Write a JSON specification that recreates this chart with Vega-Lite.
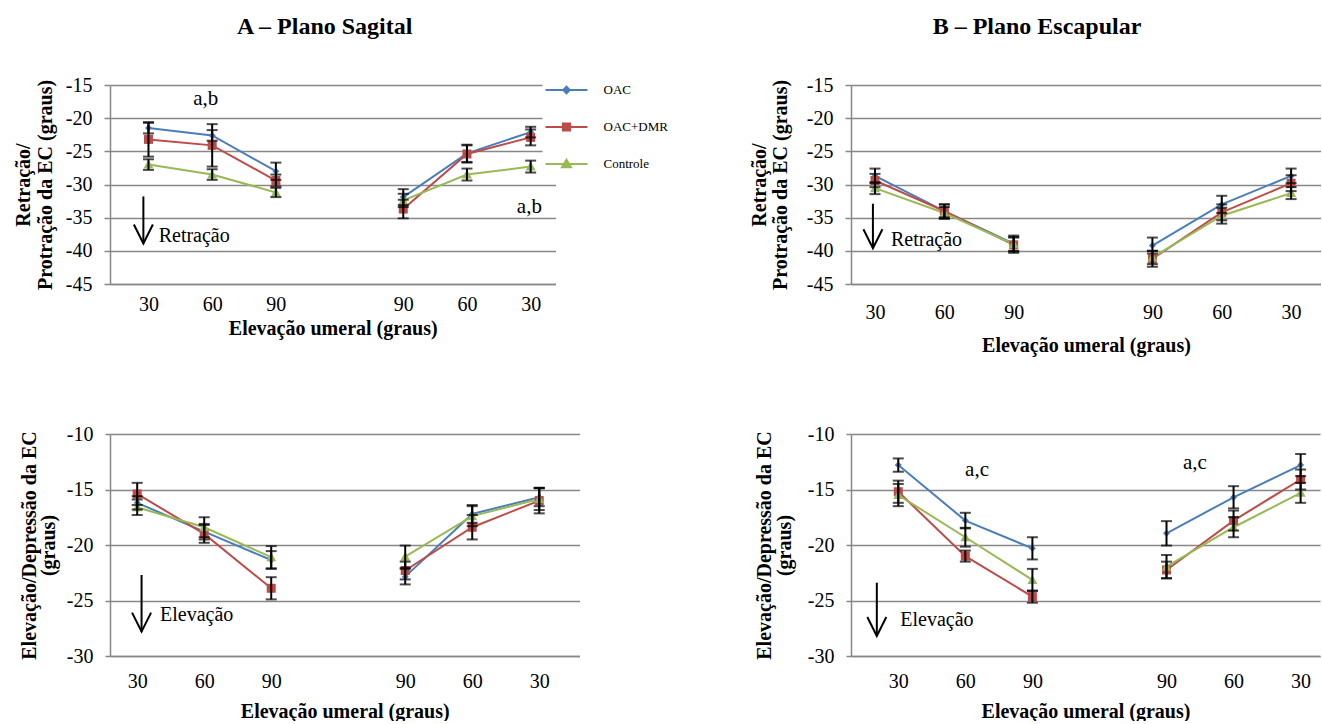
{
  "$schema": "https://vega.github.io/schema/vega-lite/v6.json",
  "background": "white",
  "padding": {"left": 13, "top": 15, "right": 0, "bottom": 0},
  "datasets": {
    "ret_sag": [
      {"pos": 1, "half": "L", "series": "OAC", "mean": -21.5, "err": 0.8},
      {"pos": 2, "half": "L", "series": "OAC", "mean": -22.6, "err": 0.8},
      {"pos": 3, "half": "L", "series": "OAC", "mean": -28.0, "err": 1.3},
      {"pos": 5, "half": "R", "series": "OAC", "mean": -31.9, "err": 1.2},
      {"pos": 6, "half": "R", "series": "OAC", "mean": -25.3, "err": 1.3},
      {"pos": 7, "half": "R", "series": "OAC", "mean": -22.1, "err": 0.8},
      {"pos": 1, "half": "L", "series": "OAC+DMR", "mean": -23.2, "err": 2.6},
      {"pos": 2, "half": "L", "series": "OAC+DMR", "mean": -24.1, "err": 3.2},
      {"pos": 3, "half": "L", "series": "OAC+DMR", "mean": -29.4, "err": 0.9},
      {"pos": 5, "half": "R", "series": "OAC+DMR", "mean": -33.7, "err": 1.4},
      {"pos": 6, "half": "R", "series": "OAC+DMR", "mean": -25.4, "err": 1.3},
      {"pos": 7, "half": "R", "series": "OAC+DMR", "mean": -22.9, "err": 1.2},
      {"pos": 1, "half": "L", "series": "Controle", "mean": -27.0, "err": 0.8},
      {"pos": 2, "half": "L", "series": "Controle", "mean": -28.5, "err": 0.8},
      {"pos": 3, "half": "L", "series": "Controle", "mean": -31.2, "err": 0.7},
      {"pos": 5, "half": "R", "series": "Controle", "mean": -32.4, "err": 1.0},
      {"pos": 6, "half": "R", "series": "Controle", "mean": -28.5, "err": 0.9},
      {"pos": 7, "half": "R", "series": "Controle", "mean": -27.3, "err": 0.9}
    ],
    "ret_esc": [
      {"pos": 1, "half": "L", "series": "OAC", "mean": -28.7, "err": 1.1},
      {"pos": 2, "half": "L", "series": "OAC", "mean": -34.0, "err": 1.0},
      {"pos": 3, "half": "L", "series": "OAC", "mean": -38.9, "err": 1.2},
      {"pos": 5, "half": "R", "series": "OAC", "mean": -39.2, "err": 1.2},
      {"pos": 6, "half": "R", "series": "OAC", "mean": -33.0, "err": 1.3},
      {"pos": 7, "half": "R", "series": "OAC", "mean": -28.7, "err": 1.1},
      {"pos": 1, "half": "L", "series": "OAC+DMR", "mean": -29.4, "err": 1.0},
      {"pos": 2, "half": "L", "series": "OAC+DMR", "mean": -34.0, "err": 1.0},
      {"pos": 3, "half": "L", "series": "OAC+DMR", "mean": -39.1, "err": 1.2},
      {"pos": 5, "half": "R", "series": "OAC+DMR", "mean": -41.2, "err": 1.2},
      {"pos": 6, "half": "R", "series": "OAC+DMR", "mean": -34.2, "err": 1.2},
      {"pos": 7, "half": "R", "series": "OAC+DMR", "mean": -29.8, "err": 1.2},
      {"pos": 1, "half": "L", "series": "Controle", "mean": -30.55, "err": 0.9},
      {"pos": 2, "half": "L", "series": "Controle", "mean": -34.3, "err": 0.9},
      {"pos": 3, "half": "L", "series": "Controle", "mean": -39.0, "err": 1.0},
      {"pos": 5, "half": "R", "series": "Controle", "mean": -41.0, "err": 1.0},
      {"pos": 6, "half": "R", "series": "Controle", "mean": -34.7, "err": 1.2},
      {"pos": 7, "half": "R", "series": "Controle", "mean": -31.3, "err": 0.9}
    ],
    "ele_sag": [
      {"pos": 1, "half": "L", "series": "OAC", "mean": -16.2, "err": 0.6},
      {"pos": 2, "half": "L", "series": "OAC", "mean": -18.8, "err": 0.7},
      {"pos": 3, "half": "L", "series": "OAC", "mean": -21.35, "err": 0.8},
      {"pos": 5, "half": "R", "series": "OAC", "mean": -22.85, "err": 0.7},
      {"pos": 6, "half": "R", "series": "OAC", "mean": -17.2, "err": 0.8},
      {"pos": 7, "half": "R", "series": "OAC", "mean": -15.7, "err": 0.8},
      {"pos": 1, "half": "L", "series": "OAC+DMR", "mean": -15.4, "err": 1.0},
      {"pos": 2, "half": "L", "series": "OAC+DMR", "mean": -19.0, "err": 0.8},
      {"pos": 3, "half": "L", "series": "OAC+DMR", "mean": -23.9, "err": 1.0},
      {"pos": 5, "half": "R", "series": "OAC+DMR", "mean": -22.3, "err": 0.8},
      {"pos": 6, "half": "R", "series": "OAC+DMR", "mean": -18.4, "err": 1.1},
      {"pos": 7, "half": "R", "series": "OAC+DMR", "mean": -16.0, "err": 1.15},
      {"pos": 1, "half": "L", "series": "Controle", "mean": -16.6, "err": 0.7},
      {"pos": 2, "half": "L", "series": "Controle", "mean": -18.4, "err": 0.9},
      {"pos": 3, "half": "L", "series": "Controle", "mean": -21.1, "err": 1.0},
      {"pos": 5, "half": "R", "series": "Controle", "mean": -21.05, "err": 1.0},
      {"pos": 6, "half": "R", "series": "Controle", "mean": -17.4, "err": 0.9},
      {"pos": 7, "half": "R", "series": "Controle", "mean": -15.85, "err": 1.0}
    ],
    "ele_esc": [
      {"pos": 1, "half": "L", "series": "OAC", "mean": -12.8, "err": 0.6},
      {"pos": 2, "half": "L", "series": "OAC", "mean": -17.8, "err": 0.7},
      {"pos": 3, "half": "L", "series": "OAC", "mean": -20.3, "err": 1.0},
      {"pos": 5, "half": "R", "series": "OAC", "mean": -18.95, "err": 1.1},
      {"pos": 6, "half": "R", "series": "OAC", "mean": -15.7, "err": 1.0},
      {"pos": 7, "half": "R", "series": "OAC", "mean": -12.8, "err": 1.0},
      {"pos": 1, "half": "L", "series": "OAC+DMR", "mean": -15.2, "err": 1.0},
      {"pos": 2, "half": "L", "series": "OAC+DMR", "mean": -21.0, "err": 0.5},
      {"pos": 3, "half": "L", "series": "OAC+DMR", "mean": -24.65, "err": 0.55},
      {"pos": 5, "half": "R", "series": "OAC+DMR", "mean": -22.25, "err": 0.75},
      {"pos": 6, "half": "R", "series": "OAC+DMR", "mean": -17.8, "err": 0.9},
      {"pos": 7, "half": "R", "series": "OAC+DMR", "mean": -14.1, "err": 0.9},
      {"pos": 1, "half": "L", "series": "Controle", "mean": -15.5, "err": 1.0},
      {"pos": 2, "half": "L", "series": "Controle", "mean": -19.3, "err": 0.85},
      {"pos": 3, "half": "L", "series": "Controle", "mean": -23.15, "err": 1.0},
      {"pos": 5, "half": "R", "series": "Controle", "mean": -21.95, "err": 1.05},
      {"pos": 6, "half": "R", "series": "Controle", "mean": -18.4, "err": 0.9},
      {"pos": 7, "half": "R", "series": "Controle", "mean": -15.3, "err": 0.9}
    ]
  },
  "config": {
    "font": "Liberation Serif",
    "view": {"stroke": null},
    "axis": {
      "labelFont": "Liberation Serif", "labelFontSize": 20, "labelColor": "black",
      "titleFont": "Liberation Serif", "titleFontSize": 20, "titleFontWeight": "bold", "titleColor": "black",
      "domainColor": "#878787", "domainWidth": 1.5, "gridColor": "#878787", "gridWidth": 1.5,
      "tickColor": "#878787", "tickWidth": 1.5, "titleLineHeight": 22,
      "labelOverlap": false, "labelFlush": false
    },
    "axisY": {"grid": true, "tickSize": 6, "labelPadding": 12},
    "axisX": {"grid": false, "ticks": false, "tickSize": 0, "labelPadding": 12},
    "title": {"font": "Liberation Serif", "fontSize": 24, "fontWeight": "bold", "color": "black"}
  },
  "resolve": {
    "scale": {"color": "independent"},
    "legend": {"color": "independent"}
  },
  "columns": 2,
  "align": "none",
  "bounds": "flush",
  "spacing": {"row": 150, "column": 271},
  "concat": [
    {
      "width": 445.5, "height": 199,
      "title": {"text": "A – Plano Sagital", "frame": "group", "dx": -8, "offset": 27},
      "data": {"name": "ret_sag"},
      "encoding": {
        "x": {"field": "pos", "type": "quantitative", "scale": {"domain": [0.396, 7.39], "nice": false, "zero": false},
          "axis": {"values": [1, 2, 3, 5, 6, 7], "labelExpr": "datum.value == 1 || datum.value == 7 ? '30' : (datum.value == 2 || datum.value == 6 ? '60' : '90')", "title": "Elevação umeral (graus)", "labelPadding": 10, "titlePadding": 4}},
        "y": {"field": "mean", "type": "quantitative", "scale": {"domain": [-45, -15], "nice": false, "zero": false},
          "axis": {"values": [-45, -40, -35, -30, -25, -20, -15], "labelExpr": "'' + datum.value", "title": ["Retração/", "Protração da EC (graus)"], "titlePadding": 9.5}}
      },
      "layer": [
        {
          "mark": {"type": "line", "strokeWidth": 2},
          "encoding": {
            "color": {"field": "series", "type": "nominal", "scale": {"domain": ["OAC", "OAC+DMR", "Controle"], "range": ["#4A7EBB", "#BE4B48", "#98B954"]},
              "legend": {"title": null, "orient": "none", "legendX": 432.5, "legendY": -19, "fillColor": "white", "padding": 8, "symbolSize": 900, "rowPadding": 13, "labelOffset": 21, "labelFont": "Liberation Serif", "labelFontSize": 13, "labelColor": "black", "symbolStrokeWidth": 2, "symbolOpacity": 1,
                "encode": {"symbols": {"update": {
                  "shape": {"signal": "datum.value === 'OAC' ? 'M-1.4,0H1.4M0,-0.22L0.22,0L0,0.22L-0.22,0Z' : (datum.value === 'OAC+DMR' ? 'M-1.4,0H1.4M-0.24,-0.24H0.24V0.24H-0.24Z' : 'M-1.4,0H1.4M0,-0.28L0.3,0.22H-0.3Z')"}
                }}}}},
            "detail": {"field": "half", "type": "nominal"}
          }
        },
        {
          "transform": [{"filter": "datum.series === 'OAC'"}],
          "mark": {"type": "point", "filled": true, "opacity": 1, "size": 100, "shape": "M0,-0.7L0.7,0L0,0.7L-0.7,0Z"},
          "encoding": {
            "color": {"field": "series", "type": "nominal", "scale": {"domain": ["OAC", "OAC+DMR", "Controle"], "range": ["#4A7EBB", "#BE4B48", "#98B954"]},
              "legend": {"title": null, "orient": "none", "legendX": 432.5, "legendY": -19, "fillColor": "white", "padding": 8, "symbolSize": 900, "rowPadding": 13, "labelOffset": 21, "labelFont": "Liberation Serif", "labelFontSize": 13, "labelColor": "black", "symbolStrokeWidth": 2, "symbolOpacity": 1,
                "encode": {"symbols": {"update": {
                  "shape": {"signal": "datum.value === 'OAC' ? 'M-1.4,0H1.4M0,-0.22L0.22,0L0,0.22L-0.22,0Z' : (datum.value === 'OAC+DMR' ? 'M-1.4,0H1.4M-0.24,-0.24H0.24V0.24H-0.24Z' : 'M-1.4,0H1.4M0,-0.28L0.3,0.22H-0.3Z')"}
                }}}}}
          }
        },
        {
          "transform": [{"filter": "datum.series === 'OAC+DMR'"}],
          "mark": {"type": "point", "filled": true, "opacity": 1, "size": 100, "shape": "M-0.9,-0.9H0.9V0.9H-0.9Z"},
          "encoding": {
            "color": {"field": "series", "type": "nominal", "scale": {"domain": ["OAC", "OAC+DMR", "Controle"], "range": ["#4A7EBB", "#BE4B48", "#98B954"]},
              "legend": {"title": null, "orient": "none", "legendX": 432.5, "legendY": -19, "fillColor": "white", "padding": 8, "symbolSize": 900, "rowPadding": 13, "labelOffset": 21, "labelFont": "Liberation Serif", "labelFontSize": 13, "labelColor": "black", "symbolStrokeWidth": 2, "symbolOpacity": 1,
                "encode": {"symbols": {"update": {
                  "shape": {"signal": "datum.value === 'OAC' ? 'M-1.4,0H1.4M0,-0.22L0.22,0L0,0.22L-0.22,0Z' : (datum.value === 'OAC+DMR' ? 'M-1.4,0H1.4M-0.24,-0.24H0.24V0.24H-0.24Z' : 'M-1.4,0H1.4M0,-0.28L0.3,0.22H-0.3Z')"}
                }}}}}
          }
        },
        {
          "transform": [{"filter": "datum.series === 'Controle'"}],
          "mark": {"type": "point", "filled": true, "opacity": 1, "size": 100, "shape": "M0,-1L1,0.8H-1Z"},
          "encoding": {
            "color": {"field": "series", "type": "nominal", "scale": {"domain": ["OAC", "OAC+DMR", "Controle"], "range": ["#4A7EBB", "#BE4B48", "#98B954"]},
              "legend": {"title": null, "orient": "none", "legendX": 432.5, "legendY": -19, "fillColor": "white", "padding": 8, "symbolSize": 900, "rowPadding": 13, "labelOffset": 21, "labelFont": "Liberation Serif", "labelFontSize": 13, "labelColor": "black", "symbolStrokeWidth": 2, "symbolOpacity": 1,
                "encode": {"symbols": {"update": {
                  "shape": {"signal": "datum.value === 'OAC' ? 'M-1.4,0H1.4M0,-0.22L0.22,0L0,0.22L-0.22,0Z' : (datum.value === 'OAC+DMR' ? 'M-1.4,0H1.4M-0.24,-0.24H0.24V0.24H-0.24Z' : 'M-1.4,0H1.4M0,-0.28L0.3,0.22H-0.3Z')"}
                }}}}}
          }
        },
        {
          "mark": {"type": "errorbar", "ticks": true, "size": 11, "thickness": 2, "color": "black"},
          "encoding": {"yError": {"field": "err"}}
        },
        {
          "data": {"values": [{"pos": 1.9, "mean": -17.1, "t": "a,b"}, {"pos": 6.98, "mean": -33.4, "t": "a,b"}]},
          "mark": {"type": "text", "font": "Liberation Serif", "fontSize": 21, "color": "black", "align": "center", "baseline": "middle"},
          "encoding": {"text": {"field": "t"}}
        },
        {
          "data": {"values": [{"pos": 1.16, "mean": -37.8, "t": "Retração"}]},
          "mark": {"type": "text", "font": "Liberation Serif", "fontSize": 20, "color": "black", "align": "left", "baseline": "middle"},
          "encoding": {"text": {"field": "t"}}
        },
        {
          "data": {"values": [{"pos": 0.92, "mean": -31.8, "end": -38.9}]},
          "mark": {"type": "rule", "color": "black", "strokeWidth": 2},
          "encoding": {"y2": {"field": "end"}}
        },
        {
          "data": {"values": [{"pos": 0.92, "mean": -38.9}]},
          "mark": {"type": "point", "filled": false, "stroke": "black", "strokeWidth": 2, "opacity": 1, "shape": "M-1,-2L0,0L1,-2", "size": 361},
          "encoding": {}
        }
      ]
    },
    {
      "width": 470, "height": 199,
      "title": {"text": "B – Plano Escapular", "frame": "group", "dx": -49, "offset": 36},
      "data": {"name": "ret_esc"},
      "encoding": {
        "x": {"field": "pos", "type": "quantitative", "scale": {"domain": [0.654, 7.431], "nice": false, "zero": false},
          "axis": {"values": [1, 2, 3, 5, 6, 7], "labelExpr": "datum.value == 1 || datum.value == 7 ? '30' : (datum.value == 2 || datum.value == 6 ? '60' : '90')", "title": "Elevação umeral (graus)", "labelPadding": 18, "titlePadding": 13}},
        "y": {"field": "mean", "type": "quantitative", "scale": {"domain": [-45, -15], "nice": false, "zero": false},
          "axis": {"values": [-45, -40, -35, -30, -25, -20, -15], "labelExpr": "'' + datum.value", "title": ["Retração/", "Protração da EC (graus)"], "titlePadding": 16, "titleLineHeight": 21}}
      },
      "layer": [
        {
          "mark": {"type": "line", "strokeWidth": 2},
          "encoding": {
            "color": {"field": "series", "type": "nominal", "scale": {"domain": ["OAC", "OAC+DMR", "Controle"], "range": ["#4A7EBB", "#BE4B48", "#98B954"]}, "legend": null},
            "detail": {"field": "half", "type": "nominal"}
          }
        },
        {
          "mark": {"type": "point", "filled": true, "opacity": 1, "size": 100},
          "encoding": {
            "color": {"field": "series", "type": "nominal", "scale": {"domain": ["OAC", "OAC+DMR", "Controle"], "range": ["#4A7EBB", "#BE4B48", "#98B954"]}, "legend": null},
            "shape": {"field": "series", "type": "nominal", "scale": {"domain": ["OAC", "OAC+DMR", "Controle"], "range": ["M0,-0.7L0.7,0L0,0.7L-0.7,0Z", "M-0.9,-0.9H0.9V0.9H-0.9Z", "M0,-1L1,0.8H-1Z"]}, "legend": null}
          }
        },
        {
          "mark": {"type": "errorbar", "ticks": true, "size": 11, "thickness": 2, "color": "black"},
          "encoding": {"yError": {"field": "err"}}
        },
        {
          "data": {"values": [{"pos": 1.23, "mean": -38.4, "t": "Retração"}]},
          "mark": {"type": "text", "font": "Liberation Serif", "fontSize": 20, "color": "black", "align": "left", "baseline": "middle"},
          "encoding": {"text": {"field": "t"}}
        },
        {
          "data": {"values": [{"pos": 0.97, "mean": -32.9, "end": -39.6}]},
          "mark": {"type": "rule", "color": "black", "strokeWidth": 2},
          "encoding": {"y2": {"field": "end"}}
        },
        {
          "data": {"values": [{"pos": 0.97, "mean": -39.6}]},
          "mark": {"type": "point", "filled": false, "stroke": "black", "strokeWidth": 2, "opacity": 1, "shape": "M-1,-2L0,0L1,-2", "size": 361},
          "encoding": {}
        }
      ]
    },
    {
      "width": 469.5, "height": 222,
      "data": {"name": "ele_sag"},
      "encoding": {
        "x": {"field": "pos", "type": "quantitative", "scale": {"domain": [0.594, 7.601], "nice": false, "zero": false},
          "axis": {"values": [1, 2, 3, 5, 6, 7], "labelExpr": "datum.value == 1 || datum.value == 7 ? '30' : (datum.value == 2 || datum.value == 6 ? '60' : '90')", "title": "Elevação umeral (graus)", "labelPadding": 15, "titlePadding": 10}},
        "y": {"field": "mean", "type": "quantitative", "scale": {"domain": [-30, -10], "nice": false, "zero": false},
          "axis": {"values": [-30, -25, -20, -15, -10], "labelExpr": "'' + datum.value", "title": ["Elevação/Depressão da EC", "(graus)"], "titlePadding": 7.5, "titleLineHeight": 19, "tickSize": 5}}
      },
      "layer": [
        {
          "mark": {"type": "line", "strokeWidth": 2},
          "encoding": {
            "color": {"field": "series", "type": "nominal", "scale": {"domain": ["OAC", "OAC+DMR", "Controle"], "range": ["#4A7EBB", "#BE4B48", "#98B954"]}, "legend": null},
            "detail": {"field": "half", "type": "nominal"}
          }
        },
        {
          "mark": {"type": "point", "filled": true, "opacity": 1, "size": 100},
          "encoding": {
            "color": {"field": "series", "type": "nominal", "scale": {"domain": ["OAC", "OAC+DMR", "Controle"], "range": ["#4A7EBB", "#BE4B48", "#98B954"]}, "legend": null},
            "shape": {"field": "series", "type": "nominal", "scale": {"domain": ["OAC", "OAC+DMR", "Controle"], "range": ["M0,-0.7L0.7,0L0,0.7L-0.7,0Z", "M-0.9,-0.9H0.9V0.9H-0.9Z", "M0,-1L1,0.8H-1Z"]}, "legend": null}
          }
        },
        {
          "mark": {"type": "errorbar", "ticks": true, "size": 11, "thickness": 2, "color": "black"},
          "encoding": {"yError": {"field": "err"}}
        },
        {
          "data": {"values": [{"pos": 1.34, "mean": -26.3, "t": "Elevação"}]},
          "mark": {"type": "text", "font": "Liberation Serif", "fontSize": 20, "color": "black", "align": "left", "baseline": "middle"},
          "encoding": {"text": {"field": "t"}}
        },
        {
          "data": {"values": [{"pos": 1.065, "mean": -22.7, "end": -27.8}]},
          "mark": {"type": "rule", "color": "black", "strokeWidth": 2},
          "encoding": {"y2": {"field": "end"}}
        },
        {
          "data": {"values": [{"pos": 1.065, "mean": -27.8}]},
          "mark": {"type": "point", "filled": false, "stroke": "black", "strokeWidth": 2, "opacity": 1, "shape": "M-1,-2L0,0L1,-2", "size": 361},
          "encoding": {}
        }
      ]
    },
    {
      "width": 469, "height": 222,
      "data": {"name": "ele_esc"},
      "encoding": {
        "x": {"field": "pos", "type": "quantitative", "scale": {"domain": [0.295, 7.289], "nice": false, "zero": false},
          "axis": {"values": [1, 2, 3, 5, 6, 7], "labelExpr": "datum.value == 1 || datum.value == 7 ? '30' : (datum.value == 2 || datum.value == 6 ? '60' : '90')", "title": "Elevação umeral (graus)", "labelPadding": 15, "titlePadding": 10}},
        "y": {"field": "mean", "type": "quantitative", "scale": {"domain": [-30, -10], "nice": false, "zero": false},
          "axis": {"values": [-30, -25, -20, -15, -10], "labelExpr": "'' + datum.value", "title": ["Elevação/Depressão da EC", "(graus)"], "titlePadding": 13, "titleLineHeight": 20, "tickSize": 5}}
      },
      "layer": [
        {
          "mark": {"type": "line", "strokeWidth": 2},
          "encoding": {
            "color": {"field": "series", "type": "nominal", "scale": {"domain": ["OAC", "OAC+DMR", "Controle"], "range": ["#4A7EBB", "#BE4B48", "#98B954"]}, "legend": null},
            "detail": {"field": "half", "type": "nominal"}
          }
        },
        {
          "mark": {"type": "point", "filled": true, "opacity": 1, "size": 100},
          "encoding": {
            "color": {"field": "series", "type": "nominal", "scale": {"domain": ["OAC", "OAC+DMR", "Controle"], "range": ["#4A7EBB", "#BE4B48", "#98B954"]}, "legend": null},
            "shape": {"field": "series", "type": "nominal", "scale": {"domain": ["OAC", "OAC+DMR", "Controle"], "range": ["M0,-0.7L0.7,0L0,0.7L-0.7,0Z", "M-0.9,-0.9H0.9V0.9H-0.9Z", "M0,-1L1,0.8H-1Z"]}, "legend": null}
          }
        },
        {
          "mark": {"type": "errorbar", "ticks": true, "size": 11, "thickness": 2, "color": "black"},
          "encoding": {"yError": {"field": "err"}}
        },
        {
          "data": {"values": [{"pos": 2.175, "mean": -13.2, "t": "a,c"}, {"pos": 5.425, "mean": -12.6, "t": "a,c"}]},
          "mark": {"type": "text", "font": "Liberation Serif", "fontSize": 21, "color": "black", "align": "center", "baseline": "middle"},
          "encoding": {"text": {"field": "t"}}
        },
        {
          "data": {"values": [{"pos": 1.03, "mean": -26.75, "t": "Elevação"}]},
          "mark": {"type": "text", "font": "Liberation Serif", "fontSize": 20, "color": "black", "align": "left", "baseline": "middle"},
          "encoding": {"text": {"field": "t"}}
        },
        {
          "data": {"values": [{"pos": 0.68, "mean": -23.4, "end": -28.2}]},
          "mark": {"type": "rule", "color": "black", "strokeWidth": 2},
          "encoding": {"y2": {"field": "end"}}
        },
        {
          "data": {"values": [{"pos": 0.68, "mean": -28.2}]},
          "mark": {"type": "point", "filled": false, "stroke": "black", "strokeWidth": 2, "opacity": 1, "shape": "M-1,-2L0,0L1,-2", "size": 361},
          "encoding": {}
        }
      ]
    }
  ]
}
